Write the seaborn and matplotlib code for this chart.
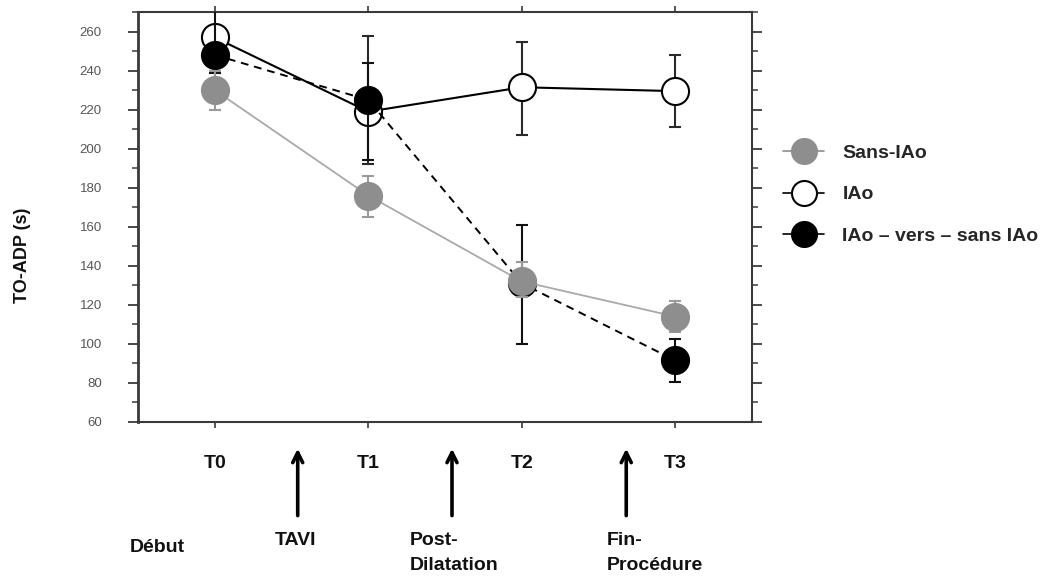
import numpy as np
import pandas as pd
import seaborn as sns
import matplotlib
matplotlib.use("Agg")
import matplotlib.pyplot as plt
import matplotlib.transforms as mtransforms
from matplotlib.lines import Line2D
from matplotlib.ticker import MultipleLocator

# ---- data ----
timepoints = ["T0", "T1", "T2", "T3"]
series_names = ["Sans-IAo", "IAo", "IAo – vers – sans IAo"]

sans_mean = [230, 176, 132, 114]
sans_lo = [220, 165, 124, 106]
sans_hi = [240, 186, 142, 122]

iao_mean = [257, 219, 231.5, 229.5]
iao_lo = [251, 192, 207, 211]
iao_hi = [263, 258, 254.5, 248]

switch_mean = [248, 225, 131, 91.5]
switch_lo = [239, 194, 100, 80.5]
switch_hi = [280, 244, 161, 102.5]

event_labels = ["Début", "TAVI", "Post-\nDilatation", "Fin-\nProcédure"]
y_label = "TO-ADP (s)"

# ---- style ----
sns.set_theme(style="white")
plt.rcParams["font.family"] = ["Liberation Sans", "DejaVu Sans"]

fig = plt.figure(figsize=(10.49, 5.76), dpi=100)
ax = fig.add_axes([0.1316, 0.2674, 0.717 - 0.1316, 0.979 - 0.2674])

x = np.arange(len(timepoints))
df = pd.DataFrame({
    "x": np.tile(x, 3),
    "y": sans_mean + iao_mean + switch_mean,
    "serie": np.repeat(series_names, 4),
})

styles = {
    "IAo": dict(color="black", mfc="white", mec="black", ls="-", lw=1.5, z=3),
    "IAo – vers – sans IAo": dict(color="black", mfc="black", mec="black", ls=(0, (4, 3)), lw=1.4, z=4),
    "Sans-IAo": dict(color="#a9a9a9", mfc="#8e8e8e", mec="#8e8e8e", ls="-", lw=1.3, z=5),
}
errs = {
    "Sans-IAo": (sans_mean, sans_lo, sans_hi, "#9a9a9a"),
    "IAo": (iao_mean, iao_lo, iao_hi, "#2a2a2a"),
    "IAo – vers – sans IAo": (switch_mean, switch_lo, switch_hi, "#111111"),
}

for name in ["IAo", "IAo – vers – sans IAo", "Sans-IAo"]:
    st = styles[name]
    m, lo, hi, ec = errs[name]
    m = np.array(m); lo = np.array(lo); hi = np.array(hi)
    ax.errorbar(x, m, yerr=[m - lo, hi - m], fmt="none", ecolor=ec,
                elinewidth=1.5, capsize=4, capthick=1.5, zorder=st["z"] - 0.5)
    sub = df[df["serie"] == name]
    sns.lineplot(data=sub, x="x", y="y", ax=ax, color=st["color"], lw=st["lw"],
                 linestyle=st["ls"], marker="o", markersize=19.5,
                 markerfacecolor=st["mfc"], markeredgecolor=st["mec"],
                 markeredgewidth=1.5, zorder=st["z"], legend=False)

ax.set_xlim(-0.5, 3.5)
ax.set_ylim(60, 270)
ax.set_xlabel("")
ax.set_ylabel("")
ax.set_xticks(x)
ax.set_xticklabels([])
ax.yaxis.set_major_locator(MultipleLocator(20))
ax.yaxis.set_minor_locator(MultipleLocator(10))
ax.set_yticks(np.arange(60, 261, 20))

for s in ax.spines.values():
    s.set_color("#3a3a3a")
    s.set_linewidth(1.5)
ax.spines["left"].set_linewidth(2)

ax.tick_params(axis="y", which="major", direction="out", length=7, width=1.3,
               color="#3a3a3a", labelsize=9.5, labelcolor="#555555",
               left=True, right=True, pad=19)
ax.tick_params(axis="y", which="minor", direction="out", length=4.5, width=1.1,
               color="#3a3a3a", left=True, right=True)
ax.tick_params(axis="x", which="major", direction="out", length=4, width=1.2,
               color="#3a3a3a", bottom=True, top=True)

BIG = 14
# y label
fig.text(0.021, 0.557, y_label, rotation=90, ha="center", va="center",
         fontsize=13, fontweight="bold", color="#111111")

# time labels under axis
trans = mtransforms.blended_transform_factory(ax.transData, fig.transFigure)
for xi, lab in zip(x, timepoints):
    ax.text(xi, 0.196, lab, transform=trans, ha="center", va="center",
            fontsize=BIG, fontweight="bold", color="#111111")

# arrows
arrow_x = [0.54, 1.545, 2.68]
for ax_x in arrow_x:
    ax.annotate("", xy=(ax_x, 0.226), xytext=(ax_x, 0.100),
                xycoords=trans, textcoords=trans, annotation_clip=False,
                arrowprops=dict(arrowstyle="->,head_length=0.6,head_width=0.3",
                                lw=2.6, color="black"))

# event labels
def lab(xf, yf, s):
    fig.text(xf, yf, s, ha="left", va="center", fontsize=BIG,
             fontweight="bold", color="#111111")

lab(0.124, 0.050, "Début")
lab(0.262, 0.061, "TAVI")
lab(0.391, 0.061, "Post-")
lab(0.391, 0.019, "Dilatation")
lab(0.578, 0.061, "Fin-")
lab(0.578, 0.019, "Procédure")

# legend
handles = []
for name in series_names:
    st = styles[name]
    handles.append(Line2D([0], [0], color="black" if name != "Sans-IAo" else "#8e8e8e",
                          lw=1.2, marker="o", markersize=18,
                          markerfacecolor=st["mfc"], markeredgecolor=st["mec"],
                          markeredgewidth=1.5))
fig.legend(handles, series_names, loc="center left", bbox_to_anchor=(0.7373, 0.662),
           frameon=False, handlelength=2.1, handletextpad=0.95,
           labelspacing=1.23, borderpad=0.0, prop={"weight": "bold", "size": BIG})

fig.savefig("out.png", dpi=100)
